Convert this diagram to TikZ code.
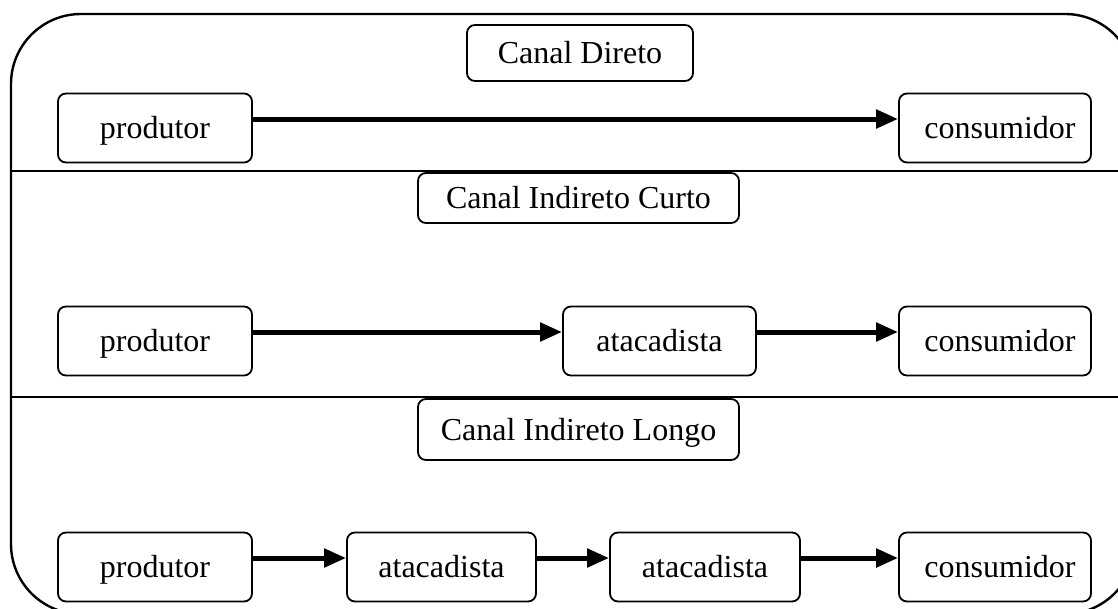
\documentclass[tikz,border=0pt]{standalone}
\usepackage{fontspec}
\setmainfont{Liberation Serif}
\usetikzlibrary{arrows.meta}

\begin{document}
\begin{tikzpicture}[x=1pt,y=-1pt,
  box/.style={draw, line width=1.8pt, rounded corners=8pt, inner sep=0pt,
    minimum height=69pt, text height=25pt, text depth=4pt,
    font=\fontsize{32}{38}\selectfont},
  titlebox/.style={draw, line width=1.8pt, rounded corners=8pt, inner sep=0pt,
    text height=25pt, text depth=4pt, font=\fontsize{32}{38}\selectfont},
  flow/.style={line width=5pt, -{Triangle[length=22pt,width=18pt]}},
  rule/.style={line width=2.2pt}]

\useasboundingbox (0,0) rectangle (1118,608);
\clip (0,0) rectangle (1118,608);

% outer frame and section rules
\draw[line width=2.4pt, rounded corners=70pt] (11,14) rectangle (1135,614);
\draw[rule] (11,171) -- (1135,171);
\draw[rule] (11,397) -- (1135,397);

% section titles
\node[titlebox, minimum width=226pt, minimum height=56pt] (t1) at (580,53) {Canal Direto};
\node[titlebox, minimum width=321pt, minimum height=50pt] (t2) at (578.5,198) {Canal Indireto Curto};
\node[titlebox, minimum width=321pt, minimum height=61pt] (t3) at (578.5,429.5) {Canal Indireto Longo};

% direct channel
\node[box, minimum width=194pt] (p1) at (155,128) {produtor};
\node[box, minimum width=192pt] (c1) at (995,128) {\hspace{10pt}consumidor};
\draw[flow] ([yshift=9pt]p1.east) -- ([yshift=9pt]c1.west);

% short indirect channel
\node[box, minimum width=194pt] (p2) at (155,341) {produtor};
\node[box, minimum width=193pt] (a2) at (659.5,341) {atacadista};
\node[box, minimum width=192pt] (c2) at (995,341) {\hspace{10pt}consumidor};
\draw[flow] ([yshift=9pt]p2.east) -- ([yshift=9pt]a2.west);
\draw[flow] ([yshift=9pt]a2.east) -- ([yshift=9pt]c2.west);

% long indirect channel
\node[box, minimum width=194pt] (p3) at (155,567) {produtor};
\node[box, minimum width=189pt] (a3) at (441.5,567) {atacadista};
\node[box, minimum width=190pt] (b3) at (705,567) {atacadista};
\node[box, minimum width=192pt] (c3) at (995,567) {\hspace{10pt}consumidor};
\draw[flow] ([yshift=9pt]p3.east) -- ([yshift=9pt]a3.west);
\draw[flow] ([yshift=9pt]a3.east) -- ([yshift=9pt]b3.west);
\draw[flow] ([yshift=9pt]b3.east) -- ([yshift=9pt]c3.west);
\end{tikzpicture}
\end{document}
